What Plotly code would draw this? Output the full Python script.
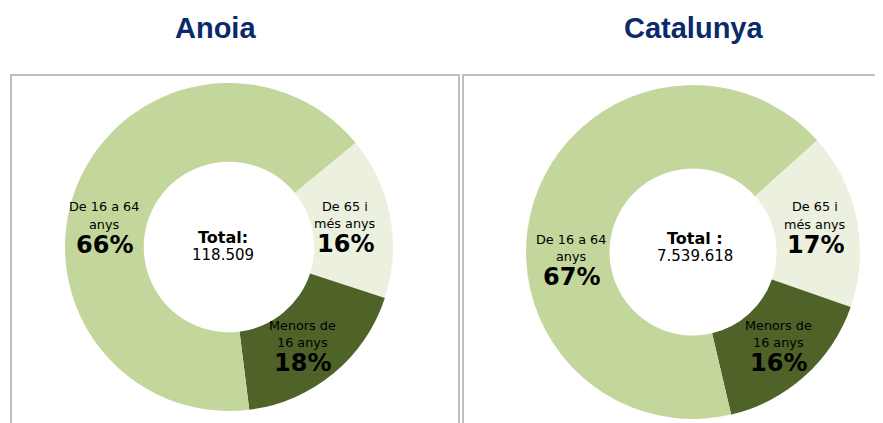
import plotly.graph_objects as go

# page is rendered with an 8px body margin; figure is sized to fill the window
OFF = 8
W, H = 883 - OFF, 423 - OFF

regions = ["Anoia", "Catalunya"]
categories = ["De 65 i més anys", "Menors de 16 anys", "De 16 a 64 anys"]
label_line1 = ["De 65 i", "Menors de", "De 16 a 64"]
label_line2 = ["més anys", "16 anys", "anys"]
anoia_pct = [16, 18, 66]
catalunya_pct = [17, 16, 67]
totals_label = ["Total:", "Total :"]
totals = ["118.509", "7.539.618"]
colors = ["#EBF1DE", "#4F6228", "#C3D69B"]

# pixel geometry (left, top, right, bottom) for each donut in the window
pie_px = [(65, 83, 393, 411), (526, 85, 860, 419)]
holes = [0.52, 0.50]
rotations = [50.5, 48]
title_x = [215, 693]
# label anchor (x center, y of first line center) per slice, per region
label_pos = [
    [(345, 206), (302, 325), (104, 207)],
    [(815, 207), (778, 325), (571, 239)],
]
total_pos = [(223, 237), (695, 238)]


def px_x(x):
    return (x - OFF) / W


def px_y(y):
    return 1 - (y - OFF) / H


def add_text(x, y, text, size, bold=False, family="DejaVu Sans", color="#000000"):
    fig.add_annotation(
        x=px_x(x), y=px_y(y), xref="paper", yref="paper",
        text=f"<b>{text}</b>" if bold else text,
        showarrow=False,
        borderpad=0,
        font=dict(family=family, size=size, color=color),
        xanchor="center", yanchor="middle",
    )


fig = go.Figure()
for i, vals in enumerate([anoia_pct, catalunya_pct]):
    l, t, r, b = pie_px[i]
    fig.add_trace(go.Pie(
        labels=categories,
        values=vals,
        textinfo="none",
        marker=dict(colors=colors, line=dict(width=0)),
        hole=holes[i],
        sort=False,
        direction="clockwise",
        rotation=rotations[i],
        domain=dict(x=[px_x(l), px_x(r)], y=[px_y(b), px_y(t)]),
        showlegend=False,
        hoverinfo="skip",
    ))
    for j, v in enumerate(vals):
        lx, ly = label_pos[i][j]
        add_text(lx, ly, label_line1[j], 12.8)
        add_text(lx, ly + 17, label_line2[j], 12.8)
        add_text(lx, ly + 38, f"{v}%", 24, bold=True)
    tx, ty = total_pos[i]
    add_text(tx, ty, totals_label[i], 16, bold=True)
    add_text(tx, ty + 18, totals[i], 15)
    add_text(title_x[i], 28, regions[i], 29, bold=True,
             family="Liberation Sans", color="#0B2A6B")

# frames
for (x0, x1) in [(11, 459), (463, 920)]:
    fig.add_shape(type="rect", xref="paper", yref="paper",
                  x0=px_x(x0), x1=px_x(x1), y0=-0.1, y1=px_y(75),
                  line=dict(color="#BFBFBF", width=2), fillcolor="rgba(0,0,0,0)",
                  layer="below")

fig.update_layout(
    width=W, height=H,
    margin=dict(l=0, r=0, t=0, b=0),
    paper_bgcolor="white",
    plot_bgcolor="white",
)

fig.write_html("out.html")
